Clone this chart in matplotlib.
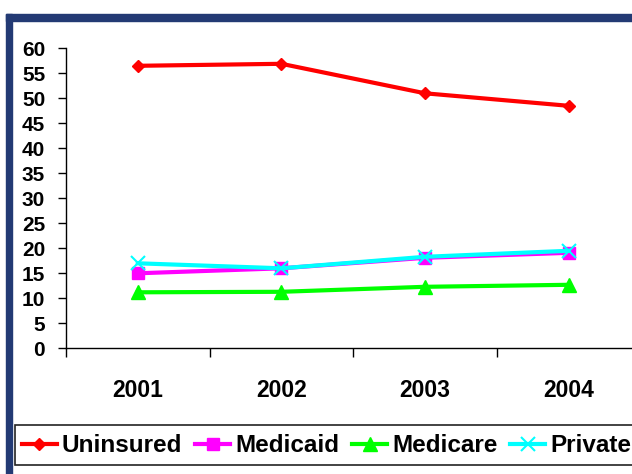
import matplotlib
matplotlib.use("Agg")
import matplotlib.pyplot as plt
from matplotlib.patches import Rectangle

years = ["2001", "2002", "2003", "2004"]
y_ticks = [0, 5, 10, 15, 20, 25, 30, 35, 40, 45, 50, 55, 60]
uninsured = [56.5, 56.9, 51.0, 48.5]
medicaid = [15.0, 16.0, 18.1, 19.1]
medicare = [11.2, 11.3, 12.3, 12.7]
private = [17.0, 16.0, 18.3, 19.5]

FONT = "Liberation Sans"
plt.rcParams["font.family"] = [FONT, "DejaVu Sans"]
plt.rcParams["font.weight"] = "bold"

W, H = 632, 474
fig = plt.figure(figsize=(W / 100, H / 100), dpi=100)
fig.patch.set_facecolor("white")

def px(x0, y0, w, h):
    return [x0 / W, 1 - (y0 + h) / H, w / W, h / H]

# axes: left at x=66, y=0 at 348.3, y=60 at 48.3; width extends beyond figure
ax = fig.add_axes(px(66, 48.3, 574.4, 300.0))
x = list(range(len(years)))
ax.plot(x, uninsured, color="#FF0000", lw=3, marker="D", ms=6.5, mec="#FF0000", label="Uninsured", zorder=3)
ax.plot(x, medicaid, color="#FF00FF", lw=3, marker="s", ms=8.5, mec="#FF00FF", label="Medicaid", zorder=3)
ax.plot(x, medicare, color="#00FF00", lw=3, marker="^", ms=10, mec="#00FF00", label="Medicare", zorder=3)
ax.plot(x, private, color="#00FFFF", lw=3, marker="x", ms=10, mew=1.5, mec="#00FFFF", label="Private", zorder=4)

ax.set_xlim(-0.5, len(years) - 0.5)
ax.set_ylim(0, 60)
ax.set_yticks(y_ticks)
ax.set_yticklabels([str(v) for v in y_ticks], fontsize=15, fontweight="bold")
ax.set_xticks([i - 0.5 for i in range(len(years) + 1)])
ax.set_xticklabels([])
ax.set_xticks(x, minor=True)
ax.set_xticklabels(years, minor=True, fontsize=16.5, fontweight="bold")
ax.tick_params(axis="y", direction="out", length=6, width=1, pad=9, colors="black")
ax.tick_params(axis="x", which="major", direction="out", length=6.5, width=1, colors="black")
ax.tick_params(axis="x", which="minor", length=0, pad=22)
for s in ["top", "right"]:
    ax.spines[s].set_visible(False)
for s in ["left", "bottom"]:
    ax.spines[s].set_linewidth(1)
    ax.spines[s].set_color("black")
ax.patch.set_alpha(0)

# navy frame (left and top)
navy = "#233a74"
fig.add_artist(Rectangle((6 / W, 0), 6 / W, 1 - 14 / H, transform=fig.transFigure, color=navy, zorder=0))
fig.add_artist(Rectangle((6 / W, 1 - 20.5 / H), 1, 6.5 / H, transform=fig.transFigure, color=navy, zorder=0))

# legend box
fig.add_artist(Rectangle((15 / W, 1 - 465 / H), 700 / W, 40 / H, transform=fig.transFigure,
                         facecolor="white", edgecolor="#222222", lw=1.2, zorder=1))
fs = 17.5
fpx = fs * 100 / 72
leg = fig.legend(loc="center left", bbox_to_anchor=(21.7 / W, 1 - 446 / H), ncol=4,
                 frameon=False, prop={"family": [FONT, "DejaVu Sans"], "weight": "bold", "size": fs},
                 handlelength=35 / fpx, handletextpad=5 / fpx, columnspacing=13 / fpx,
                 borderpad=0, borderaxespad=0, numpoints=1)
leg.set_zorder(2)

fig.savefig("out.png", dpi=100, facecolor="white")
